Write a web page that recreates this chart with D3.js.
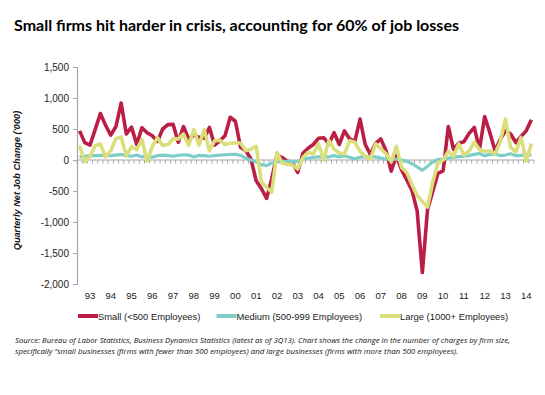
<!DOCTYPE html>
<html>
<head>
<meta charset="utf-8">
<script src="https://cdn.jsdelivr.net/npm/d3@7"></script>
<style>
html,body{margin:0;padding:0;background:#fff;}
svg{display:block;}
</style>
</head>
<body>
<svg id="chart" width="545" height="395"></svg>
<script>
// ---- Data (quarterly, 1992Q3 .. 2014Q2), thousands ----
const startYear = 1992, startQuarter = 3;
const yearLabels = ["93","94","95","96","97","98","99","00","01","02","03","04","05","06","07","08","09","10","11","12","13","14"];
const yTicks = [1500, 1000, 500, 0, -500, -1000, -1500, -2000];

const small = [470,280,240,490,750,560,400,540,920,420,530,250,520,440,390,300,500,570,575,285,540,340,400,365,350,525,240,310,390,690,
  625,205,150,15,-335,-460,-620,-300,80,40,-20,-45,-200,110,190,250,350,360,260,440,250,470,340,300,660,250,90,270,340,150,
  -180,70,-160,-320,-490,-820,-1815,-800,-510,-215,-175,540,170,270,295,430,525,170,700,440,150,330,475,420,280,380,470,650];
const medium = [50,60,70,70,75,80,70,80,90,70,60,80,50,70,45,70,80,70,60,75,85,80,50,75,70,60,70,80,85,90,
  90,75,30,0,-30,-75,-90,-50,-30,-20,-20,-25,-25,10,30,40,50,55,50,70,50,65,45,20,45,50,55,50,30,15,
  15,15,0,-20,-60,-110,-165,-100,-30,10,15,30,45,55,60,70,90,105,70,90,100,70,80,100,70,75,90,80];
const large = [230,-30,60,230,260,50,150,345,370,70,215,165,330,-20,220,360,235,250,340,340,420,240,490,240,490,150,310,320,250,270,
  275,275,150,175,220,-350,-440,-520,120,-50,-70,-80,-145,40,125,95,260,0,315,175,110,100,310,285,140,60,15,260,180,100,
  -30,220,-120,-200,-400,-570,-670,-760,-360,-50,0,140,60,260,80,140,290,170,140,150,100,290,660,205,130,365,-20,265];

const seriesNames = ["Small (<500 Employees)", "Medium (500-999 Employees)", "Large (1000+ Employees)"];
const seriesColors = ["#BB1E45", "#7DCEC9", "#DADF7B"];

// ---- Layout ----
const svg = d3.select("#chart");
const plotLeft = 77, plotRight = 534, plotTop = 67, plotBottom = 284;
const n = small.length;
const quarters = d3.range(n);

const x = d3.scaleBand().domain(quarters).range([plotLeft, plotRight]).paddingInner(0).paddingOuter(0);
const xc = i => x(i) + x.bandwidth() / 2;
const y = d3.scaleLinear().domain([-2000, 1500]).range([plotBottom, plotTop]);

const axisColor = "#A6A6A6";
const font = "'Liberation Sans', Arial, sans-serif";

// Title
svg.append("text")
  .attr("x", 14).attr("y", 31)
  .attr("font-family", "Lato, 'Open Sans', sans-serif")
  .attr("font-weight", "bold").attr("font-size", 16)
  .attr("textLength", 445).attr("lengthAdjust", "spacingAndGlyphs")
  .attr("fill", "#000")
  .text("Small firms hit harder in crisis, accounting for 60% of job losses");

// Y axis
const yAxis = d3.axisLeft(y).tickValues(yTicks).tickSize(4).tickPadding(4)
  .tickFormat(d3.format(","));
const gy = svg.append("g").attr("transform", `translate(${plotLeft},0)`).call(yAxis);
gy.select(".domain").attr("stroke", axisColor).attr("stroke-width", 1.2);
gy.selectAll(".tick line").attr("stroke", axisColor);
gy.selectAll(".tick text").attr("font-family", font).attr("font-size", 10).attr("fill", "#222")
  .text(d => d.toLocaleString("en-US"));

// Y title
svg.append("text")
  .attr("transform", `translate(20,${(plotTop + plotBottom) / 2 + 5}) rotate(-90)`)
  .attr("text-anchor", "middle")
  .attr("font-family", font).attr("font-weight", "bold").attr("font-style", "italic")
  .attr("font-size", 9.2).attr("fill", "#111")
  .text("Quarterly Net Job Change ('000)");

// X axis at zero with quarterly tick marks
const y0 = y(0);
svg.append("line")
  .attr("x1", plotLeft).attr("x2", plotRight).attr("y1", y0).attr("y2", y0)
  .attr("stroke", axisColor).attr("stroke-width", 1.2);
svg.append("g").selectAll("line").data(d3.range(n + 1)).join("line")
  .attr("x1", i => i < n ? x(i) : plotRight).attr("x2", i => i < n ? x(i) : plotRight)
  .attr("y1", y0).attr("y2", y0 + 3.5)
  .attr("stroke", axisColor).attr("stroke-width", 1);

// Year labels at first quarter of each year
const labelIdx = yearLabels.map((lab, k) => (k + 1) * 4 - (startQuarter - 1));
svg.append("g").selectAll("text").data(yearLabels).join("text")
  .attr("x", (d, k) => xc(labelIdx[k]))
  .attr("y", 299)
  .attr("text-anchor", "middle")
  .attr("font-family", font).attr("font-size", 9.5).attr("fill", "#222")
  .text(d => d);

// Lines
const line = d3.line().x((d, i) => xc(i)).y(d => y(d)).curve(d3.curveLinear);
[small, medium, large].forEach((s, k) => {
  svg.append("path").datum(s)
    .attr("d", line)
    .attr("fill", "none")
    .attr("stroke", seriesColors[k])
    .attr("stroke-width", k === 1 ? 3.2 : 3.6)
    .attr("stroke-linejoin", "round");
});

// Legend
const legendX = [78, 216.5, 380];
const legend = svg.append("g");
seriesNames.forEach((name, k) => {
  legend.append("line")
    .attr("x1", legendX[k]).attr("x2", legendX[k] + 20)
    .attr("y1", 316).attr("y2", 316)
    .attr("stroke", seriesColors[k]).attr("stroke-width", 4);
  legend.append("text")
    .attr("x", legendX[k] + 20).attr("y", 319.5)
    .attr("font-family", font).attr("font-size", 9.4).attr("fill", "#222")
    .text(name);
});

// Source note
const noteFont = "'Open Sans', 'Liberation Sans', sans-serif";
svg.append("text")
  .attr("x", 15).attr("y", 343)
  .attr("font-family", noteFont).attr("font-style", "italic").attr("font-size", 7.6)
  .attr("textLength", 495).attr("lengthAdjust", "spacingAndGlyphs").attr("fill", "#111")
  .text("Source: Bureau of Labor Statistics, Business Dynamics Statistics (latest as of 3Q13). Chart shows the change in the number of charges by firm size,");
svg.append("text")
  .attr("x", 15).attr("y", 354)
  .attr("font-family", noteFont).attr("font-style", "italic").attr("font-size", 7.6)
  .attr("textLength", 443).attr("lengthAdjust", "spacingAndGlyphs").attr("fill", "#111")
  .text("specifically \u201Csmall businesses (firms with fewer than 500 employees) and large businesses (firms with more than 500 employees).");
</script>
</body>
</html>
